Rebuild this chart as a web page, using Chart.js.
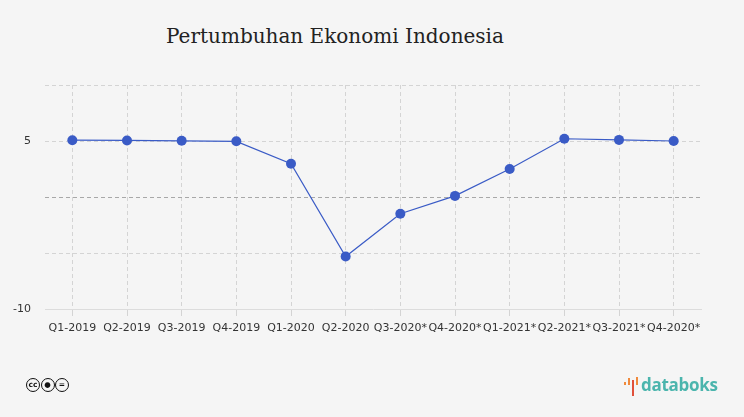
<!DOCTYPE html>
<html>
<head>
<meta charset="utf-8">
<script src="https://cdn.jsdelivr.net/npm/chart.js@4.4.0/dist/chart.umd.min.js"></script>
<style>
  html, body { margin: 0; padding: 0; background: #f5f5f5; }
  #wrap { position: relative; width: 744px; height: 417px; overflow: hidden; }
  #judul {
    position: absolute; left: 0; width: 670px; top: 24px; text-align: center;
    font-family: "DejaVu Serif", serif; font-size: 20px; color: #222;
  }
  #grafik { position: absolute; left: 0; top: 0; }
  #cc { position: absolute; left: 26px; top: 378px; }
  #cc span {
    display: inline-block; width: 12px; height: 12px; border: 1.6px solid #111; border-radius: 50%;
    font: bold 7.5px "DejaVu Sans", sans-serif; line-height: 12px; text-align: center; color: #111;
    margin-right: 0.5px; vertical-align: top;
  }
  #logo { position: absolute; left: 624px; top: 373px; height: 24px; }
  #logo .bar { position: absolute; width: 2px; }
  #logo .teks {
    position: absolute; left: 17px; top: 0; font: bold 17px "Open Sans", sans-serif;
    color: #4bb5ad; letter-spacing: -0.3px; white-space: nowrap;
  }
</style>
</head>
<body>
<div id="wrap">
  <div id="judul">Pertumbuhan Ekonomi Indonesia</div>
  <canvas id="grafik" width="744" height="417"></canvas>
  <div id="cc"><span>cc</span><span>&#9679;</span><span>=</span></div>
  <div id="logo">
    <div class="bar" style="left:0px;top:9px;height:3px;background:#f08a3c"></div>
    <div class="bar" style="left:4px;top:5px;height:7px;background:#f08a3c"></div>
    <div class="bar" style="left:8px;top:7px;height:16px;background:#e0503a"></div>
    <div class="bar" style="left:12px;top:4px;height:8px;background:#f08a3c"></div>
    <div class="teks">databoks</div>
  </div>
</div>

<script>
// Data pertumbuhan ekonomi (%)
var kuartal = ["Q1-2019", "Q2-2019", "Q3-2019", "Q4-2019", "Q1-2020", "Q2-2020",
  "Q3-2020*", "Q4-2020*", "Q1-2021*", "Q2-2021*", "Q3-2021*", "Q4-2020*"];
var pertumbuhan = [5.07, 5.05, 5.02, 4.97, 2.97, -5.32, -1.5, 0.1, 2.5, 5.2, 5.1, 5.0];
var labelSumbuY = [5, -10];

var ctx = document.getElementById("grafik").getContext("2d");
var grafik = new Chart(ctx, {
  type: "line",
  data: {
    labels: kuartal,
    datasets: [
      {
        label: "Pertumbuhan",
        data: pertumbuhan,
        borderColor: "#3a5bc6",
        backgroundColor: "#3a5bc6",
        borderWidth: 1.2,
        pointRadius: 5,
        pointHoverRadius: 5,
        pointBackgroundColor: "#3a5bc6",
        pointBorderWidth: 0,
        tension: 0,
      },
    ],
  },
  options: {
    responsive: false,
    animation: false,
    layout: { padding: { left: 0, right: 43, top: 85, bottom: 78 } },
    plugins: { legend: { display: false }, tooltip: { enabled: false } },
    scales: {
      x: {
        offset: true,
        afterFit: function (s) { s.height = 30; },
        grid: { offset: false, color: "#d4d4d4", tickLength: 7 },
        border: { display: true, color: "#dcdcdc", width: 1, dash: [4, 3] },
        ticks: {
          autoSkip: false, maxRotation: 0, padding: 6, color: "#333",
          font: { family: "DejaVu Sans", size: 11 },
        },
      },
      y: {
        min: -10,
        max: 10,
        afterFit: function (s) { s.width = 45; },
        grid: {
          drawTicks: false,
          color: function (c) { return c.tick && c.tick.value === 0 ? "#a8a8a8" : "#d4d4d4"; },
        },
        border: { display: false, dash: [4, 3] },
        ticks: {
          stepSize: 5, padding: 14, color: "#333",
          font: { family: "DejaVu Sans", size: 11 },
          callback: function (value) {
            return labelSumbuY.indexOf(value) >= 0 ? value : ""; // hanya 5 dan -10
          },
        },
      },
    },
  },
});
</script>
</body>
</html>
